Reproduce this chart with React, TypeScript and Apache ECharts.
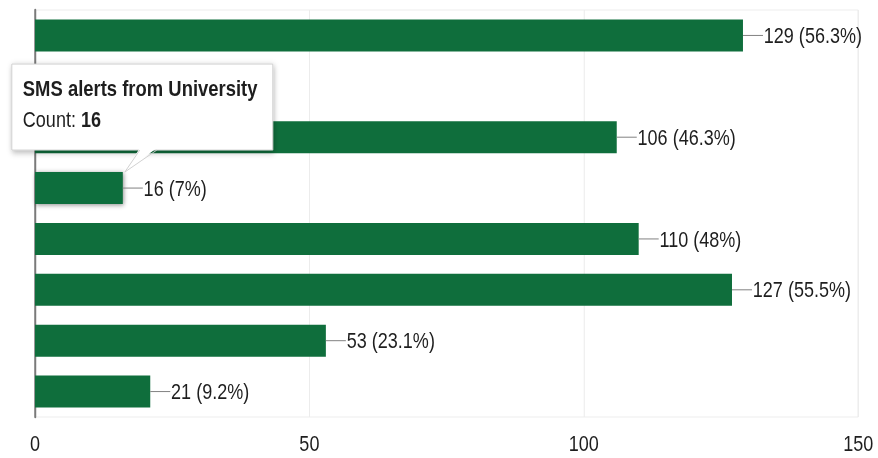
import React, { useEffect, useRef } from "react";
import * as echarts from "echarts";

// Response options (axis labels are hidden in the original chart)
const categories = [
  "Option 1",
  "Option 2",
  "Option 3",
  "SMS alerts from University",
  "Option 5",
  "Option 6",
  "Option 7",
  "Option 8",
];
// Counts per option (the 2nd bar is hidden beneath the tooltip)
const counts = [129, 0, 106, 16, 110, 127, 53, 21];
const respondents = 229;
const xTicks = [0, 50, 100, 150];
const highlightIndex = 3;

// The reference uses a narrow sans; emulate by horizontally compressing Arial-metric text.
const S = 0.82;
const W = 878;
const H = 458;
const FONT = "'Liberation Sans', Arial, Helvetica, sans-serif";
const GREEN = "#0f6e3c";
const TEXT = "#1e1e1e";

function fmtPct(v: number): string {
  const p = ((v / respondents) * 100).toFixed(1);
  return p.endsWith(".0") ? p.slice(0, -2) : p;
}

export default function App() {
  const ref = useRef<HTMLDivElement>(null);
  useEffect(() => {
    if (!ref.current) return;
    const chart = echarts.init(ref.current, null, { renderer: "svg" });
    const barWidth = 32;
    chart.setOption({
      animation: false,
      grid: {
        left: 35 / S,
        right: 20 / S,
        top: 10,
        bottom: 41,
        show: true,
        borderColor: "#ebebeb",
        borderWidth: 1,
      },
      xAxis: {
        type: "value",
        min: xTicks[0],
        max: xTicks[xTicks.length - 1],
        interval: xTicks[1] - xTicks[0],
        axisLine: { show: false },
        axisTick: { show: false },
        splitLine: { lineStyle: { color: "#ebebeb", width: 1.2 } },
        axisLabel: { fontFamily: FONT, fontSize: 22, color: TEXT, margin: 15 },
      },
      yAxis: {
        type: "category",
        data: categories,
        inverse: true,
        axisLine: { show: true, lineStyle: { color: "#7a7a7a", width: 2.4 } },
        axisTick: { show: false },
        axisLabel: { show: false },
        splitLine: { show: false },
      },
      series: [
        {
          type: "bar",
          barWidth,
          data: counts.map((v, i) => {
            if (i === highlightIndex) {
              return {
                value: v,
                itemStyle: {
                  color: GREEN,
                  shadowBlur: 5,
                  shadowColor: "rgba(0,0,0,0.45)",
                  shadowOffsetX: 1,
                  shadowOffsetY: 1,
                },
              };
            }
            // the label of the bar under the tooltip is covered in the reference
            if (i === 1) return { value: v, label: { show: false } };
            return v;
          }),
          itemStyle: { color: GREEN },
          label: {
            show: true,
            position: "right",
            distance: 0,
            formatter: (p: any) => `{l| }{t|${p.value} (${fmtPct(p.value)}%)}`,
            rich: {
              l: { width: 20 / S, height: 1, fontSize: 1, backgroundColor: "#808080" },
              t: { fontFamily: FONT, fontSize: 22, color: TEXT, padding: [0, 0, 0, 1] },
            },
          },
        },
      ],
    });

    const [tx, ty0] = chart.convertToPixel({ seriesIndex: 0 }, [
      counts[highlightIndex],
      highlightIndex,
    ]) as number[];
    const ty = ty0 - barWidth / 2;
    const boxL = tx - 111 / S;
    const boxT = ty - 108;
    const boxW = 261 / S;
    const boxH = 86;
    const baseY = boxT + boxH;
    chart.setOption({
      graphic: [
        {
          type: "rect",
          z: 100,
          shape: { x: boxL, y: boxT, width: boxW, height: boxH },
          style: {
            fill: "#fff",
            stroke: "#cccccc",
            lineWidth: 1,
            shadowBlur: 6,
            shadowColor: "rgba(0,0,0,0.3)",
            shadowOffsetX: 1,
            shadowOffsetY: 2,
          },
        },
        {
          type: "polygon",
          z: 101,
          shape: {
            points: [
              [tx + 2 / S, ty],
              [tx + 17 / S, baseY - 2],
              [tx + 34 / S, baseY - 2],
            ],
          },
          style: { fill: "#fff" },
        },
        {
          type: "polyline",
          z: 102,
          shape: {
            points: [
              [tx + 17 / S, baseY],
              [tx + 2 / S, ty],
              [tx + 34 / S, baseY],
            ],
          },
          style: { stroke: "#cccccc", lineWidth: 1, fill: null },
        },
        {
          type: "text",
          z: 103,
          x: boxL + 11 / S,
          y: boxT + 24,
          style: {
            text: categories[highlightIndex],
            font: `bold 22.5px ${FONT}`,
            fill: TEXT,
            verticalAlign: "middle",
          },
        },
        {
          type: "text",
          z: 103,
          x: boxL + 11 / S,
          y: boxT + 55,
          style: {
            text: `{a|Count: }{b|${counts[highlightIndex]}}`,
            fill: TEXT,
            verticalAlign: "middle",
            rich: {
              a: { fontFamily: FONT, fontSize: 22, fill: TEXT },
              b: { fontFamily: FONT, fontSize: 22, fontWeight: "bold", fill: TEXT },
            },
          },
        },
      ],
    });
    return () => chart.dispose();
  }, []);
  return (
    <div style={{ position: "fixed", left: 0, top: 0, width: W, height: H, overflow: "hidden" }}>
      <div
        ref={ref}
        style={{
          width: W / S,
          height: H,
          transform: `scaleX(${S})`,
          transformOrigin: "left top",
        }}
      />
    </div>
  );
}
